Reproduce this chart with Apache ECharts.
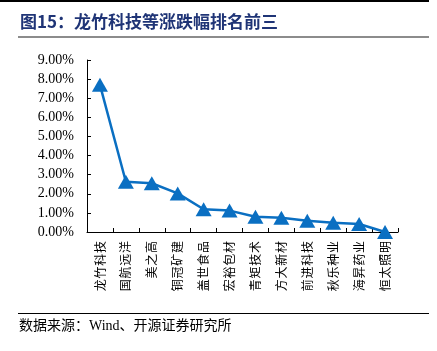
<!DOCTYPE html>
<html>
<head>
<meta charset="utf-8">
<script src="https://cdn.jsdelivr.net/npm/echarts@6/dist/echarts.min.js"></script>
<style>
  html, body { margin: 0; padding: 0; background: #fff; }
  #chart { width: 437px; height: 351px; }
</style>
</head>
<body>
<div id="chart"></div>
<script>
const categories = ["龙竹科技", "国航远洋", "美之高", "铜冠矿建", "盖世食品", "宏裕包材", "青矩技术", "方大新材", "前进科技", "秋乐种业", "海昇药业", "恒太照明"];
const changePct = [7.70, 2.63, 2.55, 2.02, 1.19, 1.12, 0.80, 0.75, 0.59, 0.49, 0.42, 0.00];
const titleText = "图15：龙竹科技等涨跌幅排名前三";
const sourceText = "数据来源：Wind、开源证券研究所";

const chart = echarts.init(document.getElementById("chart"), undefined, { renderer: "canvas" });

chart.setOption({
  backgroundColor: "#fff",
  animation: false,
  grid: { left: 87, top: 60, width: 311, height: 172 },
  graphic: [
    { type: "rect", shape: { x: 0, y: 0, width: 429, height: 2 }, style: { fill: "#000" } },
    { type: "text", left: 20, top: 13, style: { text: titleText, fill: "#1f3476", font: "bold 17px 'Noto Sans CJK SC', serif" } },
    { type: "rect", shape: { x: 18, y: 36, width: 411, height: 2 }, style: { fill: "#8c8c8c" } },
    { type: "rect", shape: { x: 18, y: 313, width: 411, height: 1 }, style: { fill: "#000" } },
    { type: "text", left: 19, top: 319, style: { text: sourceText, fill: "#000", font: "14px 'Liberation Serif', 'Noto Sans CJK SC', serif" } }
  ],
  xAxis: {
    type: "category",
    data: categories,
    boundaryGap: true,
    axisLine: { lineStyle: { color: "#000", width: 1 } },
    axisTick: { show: true, inside: true, length: 4, lineStyle: { color: "#000" } },
    axisLabel: {
      rotate: 90,
      interval: 0,
      margin: 9,
      color: "#000",
      fontSize: 12,
      fontFamily: "'Noto Sans CJK SC', serif",
      lineHeight: 14,
      // spread the characters a little, like the source
      formatter: v => v.split("").join("\u200a")
    }
  },
  yAxis: {
    type: "value",
    min: 0,
    max: 9,
    interval: 1,
    splitLine: { show: false },
    axisLine: { show: true, lineStyle: { color: "#000", width: 1 } },
    axisTick: { show: true, inside: true, length: 4, lineStyle: { color: "#000" } },
    axisLabel: {
      color: "#000",
      fontSize: 14,
      fontFamily: "'Liberation Serif', serif",
      margin: 13,
      formatter: v => v.toFixed(2) + "%"
    }
  },
  series: [
    {
      type: "line",
      data: changePct,
      symbol: "triangle",
      symbolSize: [16, 14],
      itemStyle: { color: "#0a6fc2" },
      lineStyle: { color: "#0a6fc2", width: 2.5 },
      clip: false
    }
  ]
});
</script>
</body>
</html>
